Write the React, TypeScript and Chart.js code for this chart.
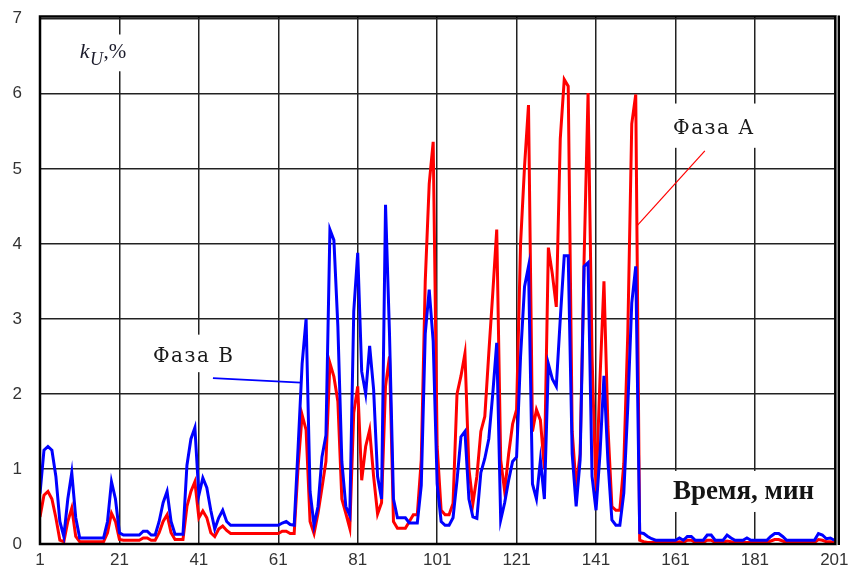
import { useEffect, useRef } from "react";
import { Chart, registerables } from "chart.js";

Chart.register(...registerables);

// minutes 1..201 (category axis)
const minutes: number[] = Array.from({ length: 201 }, (_, i) => i + 1);

// Фаза А (red), kU % per minute
const phaseA: number[] = [
  0.36, 0.65, 0.7, 0.6, 0.35, 0.05, 0.03, 0.3, 0.48, 0.1, // 1-10
  0.03, 0.03, 0.03, 0.03, 0.03, 0.03, 0.03, 0.15, 0.41, 0.3, // 11-20
  0.06, 0.05, 0.05, 0.05, 0.05, 0.05, 0.08, 0.08, 0.05, 0.05, // 21-30
  0.15, 0.3, 0.39, 0.15, 0.06, 0.06, 0.06, 0.5, 0.7, 0.83, // 31-40
  0.35, 0.44, 0.35, 0.15, 0.1, 0.2, 0.24, 0.18, 0.14, 0.14, // 41-50
  0.14, 0.14, 0.14, 0.14, 0.14, 0.14, 0.14, 0.14, 0.14, 0.14, // 51-60
  0.14, 0.17, 0.17, 0.14, 0.14, 1.04, 1.72, 1.52, 0.3, 0.14, // 61-70
  0.41, 0.75, 1.1, 2.41, 2.23, 1.9, 0.6, 0.41, 0.21, 1.75, // 71-80
  2.1, 0.85, 1.3, 1.52, 0.9, 0.4, 0.55, 2.1, 2.5, 0.3, // 81-90
  0.21, 0.21, 0.21, 0.3, 0.39, 0.39, 1.12, 3.5, 4.8, 5.36, // 91-100
  1.3, 0.45, 0.39, 0.39, 0.54, 2.0, 2.24, 2.54, 1.0, 0.54, // 101-110
  0.9, 1.5, 1.7, 2.54, 3.34, 4.19, 1.12, 0.7, 1.2, 1.6, // 111-120
  1.79, 4.0, 5.03, 5.85, 1.5, 1.79, 1.65, 1.0, 3.95, 3.6, // 121-130
  3.16, 5.4, 6.19, 6.1, 1.5, 0.76, 1.2, 3.8, 6.01, 2.5, // 131-140
  0.7, 2.2, 3.5, 1.56, 0.5, 0.45, 0.45, 1.07, 2.8, 5.6, // 141-150
  5.99, 0.05, 0.03, 0.02, 0.02, 0.02, 0.02, 0.02, 0.02, 0.02, // 151-160
  0.02, 0.03, 0.02, 0.05, 0.05, 0.02, 0.02, 0.02, 0.05, 0.05, // 161-170
  0.02, 0.02, 0.02, 0.04, 0.03, 0.02, 0.02, 0.02, 0.02, 0.02, // 171-180
  0.02, 0.02, 0.02, 0.02, 0.04, 0.06, 0.06, 0.04, 0.02, 0.02, // 181-190
  0.02, 0.02, 0.02, 0.02, 0.02, 0.02, 0.06, 0.05, 0.03, 0.03, 0.02, // 191-201
];

// Фаза В (blue)
const phaseB: number[] = [
  0.67, 1.25, 1.3, 1.25, 0.9, 0.3, 0.1, 0.6, 0.95, 0.35, // 1-10
  0.08, 0.08, 0.08, 0.08, 0.08, 0.08, 0.08, 0.3, 0.83, 0.6, // 11-20
  0.15, 0.12, 0.12, 0.12, 0.12, 0.12, 0.17, 0.17, 0.12, 0.12, // 21-30
  0.3, 0.55, 0.7, 0.3, 0.13, 0.13, 0.13, 1.05, 1.4, 1.55, // 31-40
  0.65, 0.88, 0.75, 0.45, 0.2, 0.35, 0.45, 0.3, 0.25, 0.25, // 41-50
  0.25, 0.25, 0.25, 0.25, 0.25, 0.25, 0.25, 0.25, 0.25, 0.25, // 51-60
  0.25, 0.28, 0.3, 0.26, 0.25, 1.3, 2.4, 3.0, 0.7, 0.25, // 61-70
  0.5, 1.16, 1.45, 4.19, 4.05, 2.9, 1.1, 0.5, 0.38, 3.1, // 71-80
  3.88, 2.3, 2.0, 2.64, 2.06, 0.9, 0.6, 4.52, 2.8, 0.6, // 81-90
  0.35, 0.35, 0.35, 0.28, 0.28, 0.28, 0.78, 2.8, 3.39, 2.7, // 91-100
  0.8, 0.3, 0.25, 0.25, 0.35, 0.85, 1.43, 1.5, 0.6, 0.36, // 101-110
  0.34, 0.95, 1.14, 1.4, 2.0, 2.68, 0.32, 0.55, 0.85, 1.1, // 111-120
  1.16, 2.5, 3.43, 3.7, 0.8, 0.6, 1.12, 0.6, 2.4, 2.2, // 121-130
  2.1, 3.0, 3.84, 3.84, 1.2, 0.5, 1.12, 3.7, 3.75, 0.9, // 131-140
  0.45, 1.2, 2.24, 1.1, 0.32, 0.25, 0.25, 0.68, 1.83, 3.21, // 141-150
  3.7, 0.15, 0.14, 0.1, 0.07, 0.05, 0.05, 0.05, 0.05, 0.05, // 151-160
  0.05, 0.08, 0.05, 0.1, 0.1, 0.05, 0.05, 0.05, 0.12, 0.12, // 161-170
  0.05, 0.05, 0.05, 0.12, 0.08, 0.05, 0.05, 0.05, 0.08, 0.05, // 171-180
  0.05, 0.05, 0.05, 0.05, 0.1, 0.14, 0.14, 0.1, 0.05, 0.05, // 181-190
  0.05, 0.05, 0.05, 0.05, 0.05, 0.05, 0.14, 0.12, 0.07, 0.08, 0.05, // 191-201
];

const xTicks: number[] = [1, 21, 41, 61, 81, 101, 121, 141, 161, 181, 201];
const yTicks: number[] = [0, 1, 2, 3, 4, 5, 6, 7];

const labelA = "Фаза А";
const labelB = "Фаза В";
const xTitle = "Время, мин";
const yTitleMain = "k";
const yTitleSub = "U";
const yTitleTail = ",%";

export default function App() {
  const ref = useRef<HTMLCanvasElement | null>(null);

  useEffect(() => {
    const canvas = ref.current;
    if (!canvas) return;

    const annot = {
      id: "annot",
      beforeDatasetsDraw(chart: any) {
        const c = chart.ctx;
        const xs = chart.scales.x;
        const ys = chart.scales.y;
        const X = (v: number) => xs.getPixelForValue(v);
        const Y = (v: number) => ys.getPixelForValue(v);
        const box = (x0: number, x1: number, y0: number, y1: number) => {
          c.fillStyle = "#ffffff";
          c.fillRect(X(x0), Y(y0), X(x1) - X(x0), Y(y1) - Y(y0));
        };
        c.save();
        // white boxes behind labels
        box(9.6, 24.7, 6.79, 6.3);
        box(157.1, 184.8, 5.87, 5.28);
        box(27.4, 51.4, 2.79, 2.29);
        box(158.3, 199.0, 0.974, 0.427);

        // kU,% label
        let x = X(11.0);
        const base = Y(6.48);
        c.fillStyle = "#1c1c2c";
        c.textBaseline = "alphabetic";
        c.textAlign = "left";
        c.font = "italic 22px 'Liberation Serif'";
        c.fillText(yTitleMain, x, base);
        x += c.measureText(yTitleMain).width + 0.5;
        c.font = "italic 18px 'Liberation Serif'";
        c.fillText(yTitleSub, x, base + 7);
        x += c.measureText(yTitleSub).width + 0.5;
        c.font = "21px 'Liberation Serif'";
        c.fillText(yTitleTail, x, base);

        // Phase labels
        c.fillStyle = "#1a1a1a";
        c.font = "20px 'DejaVu Serif'";
        (c as any).letterSpacing = "1.5px";
        c.fillText(labelA, X(160.4), Y(5.46));
        c.fillText(labelB, X(29.45), Y(2.43));
        (c as any).letterSpacing = "0px";

        // axis title
        c.font = "bold 27px 'Liberation Serif'";
        c.fillStyle = "#141414";
        c.fillText(xTitle, X(160.4), Y(0.6));

        // leader lines
        c.lineWidth = 1.2;
        c.strokeStyle = "#ff0000";
        c.beginPath();
        c.moveTo(X(168.4), Y(5.24));
        c.lineTo(X(151.3), Y(4.24));
        c.stroke();
        c.lineWidth = 1.6;
        c.strokeStyle = "#0000ff";
        c.beginPath();
        c.moveTo(X(44.55), Y(2.21));
        c.lineTo(X(66.7), Y(2.15));
        c.stroke();
        c.restore();
      },
      afterDraw(chart: any) {
        const c = chart.ctx;
        const a = chart.chartArea;
        c.save();
        c.strokeStyle = "#000";
        c.lineWidth = 2.5;
        c.strokeRect(a.left, a.top, a.right - a.left, a.bottom - a.top);
        c.fillStyle = "#9a9a9a";
        c.fillRect(a.right + 1, a.top - 1, 2, a.bottom - a.top + 2);
        c.lineWidth = 2;
        c.beginPath();
        c.moveTo(a.right + 3.5, a.top - 1);
        c.lineTo(a.right + 3.5, a.bottom + 1);
        c.stroke();
        c.restore();
      },
    };

    const chart = new Chart(canvas, {
      type: "line",
      data: {
        datasets: [
          {
            label: labelB,
            data: minutes.map((m, i) => ({ x: m, y: phaseB[i] })),
            borderColor: "#0000ff",
            borderWidth: 3,
            pointRadius: 0,
            tension: 0,
            fill: false,
            order: 0,
          },
          {
            label: labelA,
            data: minutes.map((m, i) => ({ x: m, y: phaseA[i] })),
            borderColor: "#ff0000",
            borderWidth: 3,
            pointRadius: 0,
            tension: 0,
            fill: false,
            order: 1,
          },
        ],
      },
      options: {
        animation: false,
        responsive: false,
        devicePixelRatio: 1,
        layout: { padding: { top: 16.5, right: 16.5, left: 0, bottom: 0 } },
        plugins: {
          legend: { display: false },
          tooltip: { enabled: false },
        },
        scales: {
          x: {
            type: "linear",
            min: 1,
            max: 201.3,
            afterBuildTicks: (s: any) => {
              s.ticks = xTicks.map((v) => ({ value: v }));
            },
            afterFit: (s: any) => {
              s.height = 25;
              s.paddingLeft = 0;
              s.paddingRight = 0;
            },
            grid: { color: "#222", lineWidth: 1.5, drawTicks: false },
            border: { display: false },
            ticks: {
              padding: 6,
              color: "#333",
              font: { family: "'Liberation Sans'", size: 17 },
              maxRotation: 0,
              autoSkip: false,
            },
          },
          y: {
            type: "linear",
            min: 0,
            max: 7.03,
            afterBuildTicks: (s: any) => {
              s.ticks = yTicks.map((v) => ({ value: v }));
            },
            afterFit: (s: any) => {
              s.width = 40;
              s.paddingTop = 0;
              s.paddingBottom = 0;
            },
            grid: { color: "#222", lineWidth: 1.5, drawTicks: false },
            border: { display: false },
            ticks: {
              padding: 18,
              color: "#333",
              font: { family: "'Liberation Sans'", size: 17 },
            },
          },
        },
      },
      plugins: [annot],
    });

    return () => chart.destroy();
  }, []);

  return (
    <div
      style={{
        position: "absolute",
        left: 0,
        top: 0,
        width: 852,
        height: 569,
        background: "#ffffff",
      }}
    >
      <canvas
        ref={ref}
        width={852}
        height={569}
        style={{ width: 852, height: 569, display: "block" }}
      />
    </div>
  );
}
